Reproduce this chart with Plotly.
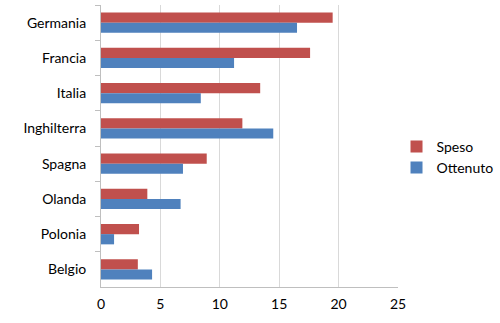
import plotly.graph_objects as go

categories = ["Germania", "Francia", "Italia", "Inghilterra", "Spagna", "Olanda", "Polonia", "Belgio"]
speso = [19.5, 17.6, 13.4, 11.9, 8.9, 3.9, 3.2, 3.1]
ottenuto = [16.5, 11.2, 8.4, 14.5, 6.9, 6.7, 1.1, 4.3]
x_ticks = [0, 5, 10, 15, 20, 25]

fig = go.Figure()
fig.add_trace(go.Bar(y=categories, x=speso, name="Speso", orientation="h",
                     marker=dict(color="#C0504D", line=dict(width=0))))
fig.add_trace(go.Bar(y=categories, x=ottenuto, name="Ottenuto", orientation="h",
                     marker=dict(color="#4F81BD", line=dict(width=0))))

font = "Lato, 'Open Sans', sans-serif"
fig.update_layout(
    width=500, height=323,
    margin=dict(l=101, r=102, t=5, b=36, autoexpand=False),
    paper_bgcolor="white", plot_bgcolor="white",
    barmode="group", bargap=0.42, bargroupgap=0,
    font=dict(family=font, size=14, color="#000000"),
    legend=dict(x=0.995, y=0.46, xanchor="left", yanchor="middle",
                font=dict(size=14), itemwidth=30, tracegroupgap=4,
                bgcolor="rgba(0,0,0,0)"),
    showlegend=True,
)
fig.update_xaxes(range=[0, 25], tickvals=x_ticks, showgrid=True, gridcolor="#D9D9D9",
                 gridwidth=1, zeroline=False, showline=True, linecolor="#BFBFBF",
                 ticks="", tickfont=dict(size=14), ticklabelstandoff=4)
fig.update_yaxes(autorange="reversed", showline=True, linecolor="#BFBFBF",
                 ticks="outside", tickson="boundaries", ticklen=5, tickcolor="#BFBFBF",
                 showgrid=False, tickfont=dict(size=14), ticklabelstandoff=11)

fig.write_html("out.html")
